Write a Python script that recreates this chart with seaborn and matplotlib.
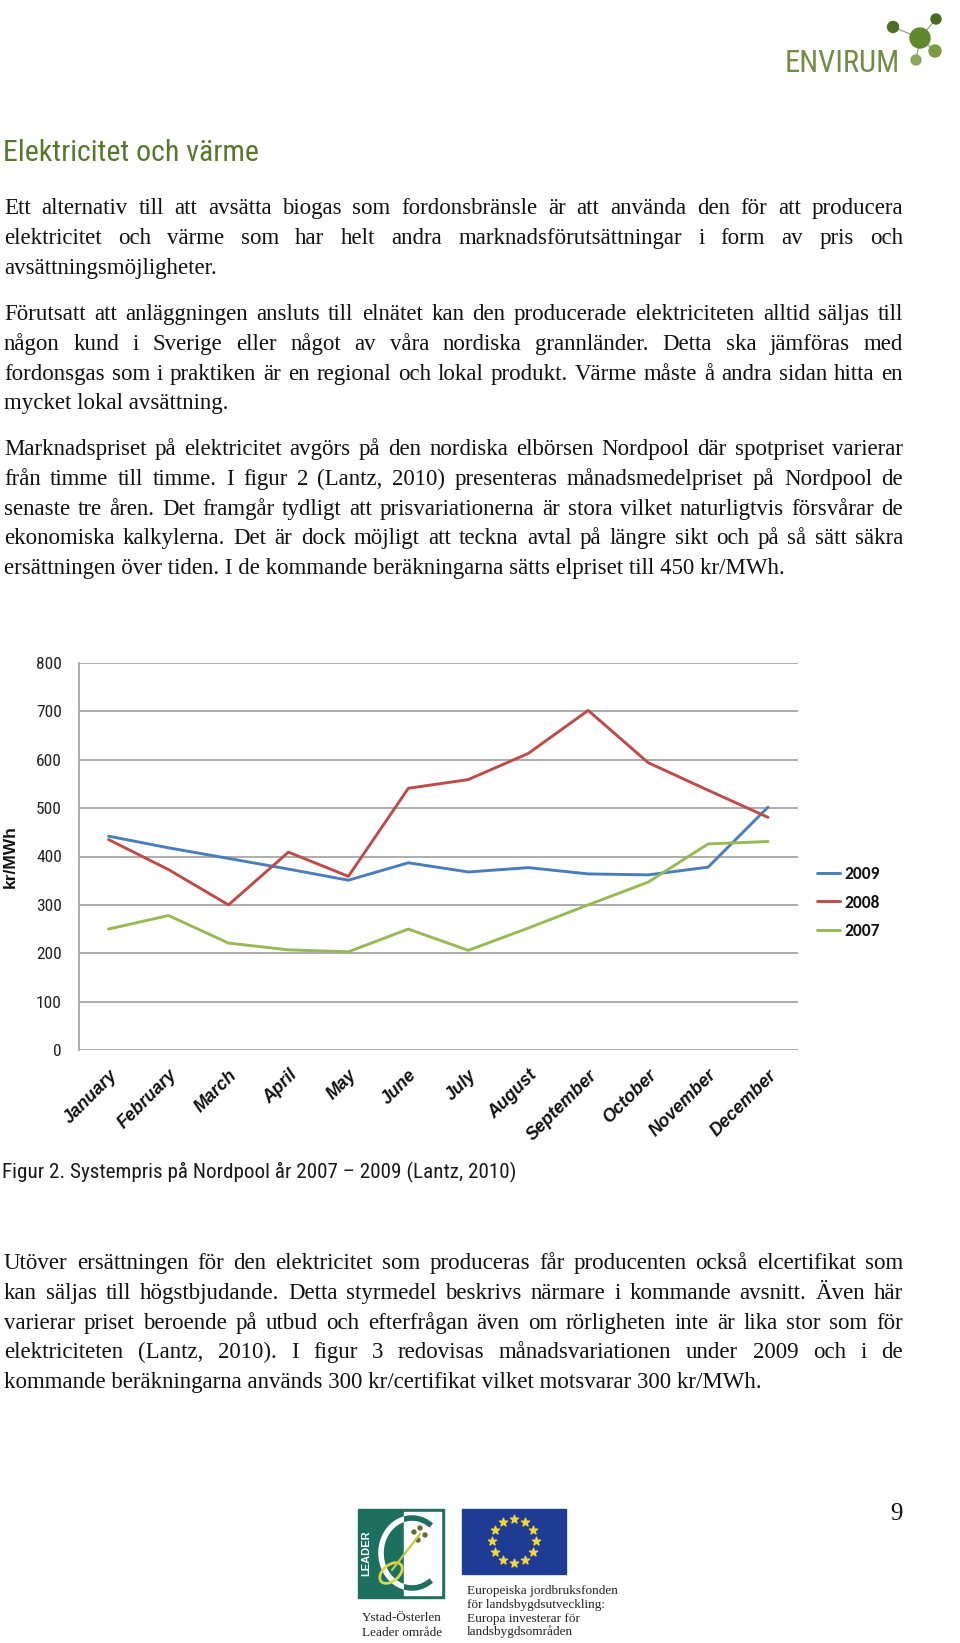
import matplotlib
matplotlib.use('Agg')
import matplotlib.pyplot as plt
from matplotlib import font_manager
from matplotlib.font_manager import FontProperties
from matplotlib.patches import Rectangle, Circle, Ellipse, Arc
import numpy as np
import pandas as pd
import seaborn as sns

# chart data
months = ['January', 'February', 'March', 'April', 'May', 'June', 'July',
          'August', 'September', 'October', 'November', 'December']
years = ['2009', '2008', '2007']
price_2009 = [442, 418, 396, 374, 351, 387, 368, 377, 364, 362, 378, 502]
price_2008 = [435, 373, 300, 409, 359, 541, 559, 613, 702, 594, 537, 481]
price_2007 = [250, 278, 221, 207, 203, 250, 206, 252, 300, 347, 426, 431]
y_ticks = [0, 100, 200, 300, 400, 500, 600, 700, 800]
line_colors = ['#4a7ebb', '#be4b48', '#98b954']

# page text
title = 'Elektricitet och värme'
para1 = ['Ett alternativ till att avsätta biogas som fordonsbränsle är att använda den för att producera',
         'elektricitet och värme som har helt andra marknadsförutsättningar i form av pris och',
         'avsättningsmöjligheter.']
para2 = ['Förutsatt att anläggningen ansluts till elnätet kan den producerade elektriciteten alltid säljas till',
         'någon kund i Sverige eller något av våra nordiska grannländer. Detta ska jämföras med',
         'fordonsgas som i praktiken är en regional och lokal produkt. Värme måste å andra sidan hitta en',
         'mycket lokal avsättning.']
para3 = ['Marknadspriset på elektricitet avgörs på den nordiska elbörsen Nordpool där spotpriset varierar',
         'från timme till timme. I figur 2 (Lantz, 2010) presenteras månadsmedelpriset på Nordpool de',
         'senaste tre åren. Det framgår tydligt att prisvariationerna är stora vilket naturligtvis försvårar de',
         'ekonomiska kalkylerna. Det är dock möjligt att teckna avtal på längre sikt och på så sätt säkra',
         'ersättningen över tiden. I de kommande beräkningarna sätts elpriset till 450 kr/MWh.']
caption = 'Figur 2. Systempris på Nordpool år 2007 – 2009 (Lantz, 2010)'
para4 = ['Utöver ersättningen för den elektricitet som produceras får producenten också elcertifikat som',
         'kan säljas till högstbjudande. Detta styrmedel beskrivs närmare i kommande avsnitt. Även här',
         'varierar priset beroende på utbud och efterfrågan även om rörligheten inte är lika stor som för',
         'elektriciteten (Lantz, 2010). I figur 3 redovisas månadsvariationen under 2009 och i de',
         'kommande beräkningarna används 300 kr/certifikat vilket motsvarar 300 kr/MWh.']
leader_text = ['Ystad-Österlen', 'Leader område']
eu_text = ['Europeiska jordbruksfonden', 'för landsbygdsutveckling:',
           'Europa investerar för', 'landsbygdsområden']

sns.set_theme(style='white')

installed = {f.name for f in font_manager.fontManager.ttflist}


def pick(*names):
    for n in names:
        if n in installed:
            return n
    return 'DejaVu Sans'


NARROW = pick('Liberation Sans Narrow', 'DejaVu Sans Condensed', 'Roboto Condensed', 'Liberation Sans')
narrow_k = 1.0 if NARROW != 'Liberation Sans' else 0.82
SERIF = pick('Liberation Serif', 'DejaVu Serif')
SANS = pick('Liberation Sans', 'DejaVu Sans')
CAL = pick('Carlito', 'Lato', 'Open Sans', 'DejaVu Sans')
plt.rcParams['font.family'] = [SANS, 'DejaVu Sans']

W, H = 960, 1643
fig = plt.figure(figsize=(W / 100, H / 100), dpi=100)
fig.patch.set_facecolor('white')

# page layer in pixel coordinates
pg = fig.add_axes([0, 0, 1, 1])
pg.set_xlim(0, W)
pg.set_ylim(H, 0)
pg.axis('off')

# header logo
pg.text(785, 72, 'ENVIRUM', family=NARROW, fontsize=22 * narrow_k, color='#738c45', va='baseline')
hub = (920, 38)
for (cx, cy, r, c) in [(893, 27, 5.5, '#4f6f22'), (936, 19, 5, '#4a6a1f'),
                       (935, 51, 6, '#7a9a45'), (916, 60, 5, '#8aa85a')]:
    pg.plot([hub[0], cx], [hub[1], cy], color='#8a9a78', lw=0.8, zorder=1)
    pg.add_patch(Circle((cx, cy), r, color=c, zorder=2))
pg.add_patch(Circle(hub, 10, color='#5f8a2c', zorder=2))

pg.text(3, 161, title, family=NARROW, fontsize=21.5 * narrow_k, color='#55782a', va='baseline')

# body text, justified word by word
fig.canvas.draw()
rend = fig.canvas.get_renderer()
left, right = 4, 903
body_size = 16.5


def tw(s, fp):
    return rend.get_text_width_height_descent(s, fp, ismath=False)[0]


all_lines = []
for p in (para1, para2, para3, para4):
    all_lines += p[:-1]
fp = FontProperties(family=SERIF, size=body_size)
widest = max(tw(l, fp) for l in all_lines)
if widest > 0.995 * (right - left):
    body_size *= 0.995 * (right - left) / widest
fp = FontProperties(family=SERIF, size=body_size)


def paragraph(lines, y0, step=29.8):
    for i, line in enumerate(lines):
        y = y0 + i * step
        if i == len(lines) - 1:
            pg.text(left, y, line, fontproperties=fp, color='#111111', va='baseline')
            continue
        words = line.split()
        ws = [tw(w, fp) for w in words]
        gap = (right - left - sum(ws)) / (len(words) - 1)
        x = left
        for w, wd in zip(words, ws):
            pg.text(x, y, w, fontproperties=fp, color='#111111', va='baseline')
            x += wd + gap


paragraph(para1, 214)
paragraph(para2, 320)
paragraph(para3, 455)
paragraph(para4, 1269)

pg.text(2, 1178, caption, family=NARROW, fontsize=15.2 * narrow_k, color='#1a1a1a', va='baseline')

# chart
df = pd.DataFrame({
    'month': months * 3,
    'year': [years[0]] * 12 + [years[1]] * 12 + [years[2]] * 12,
    'price': price_2009 + price_2008 + price_2007,
})
ax = fig.add_axes([78.6 / W, 1 - 1050 / H, 719.4 / W, 387 / H])
sns.lineplot(data=df, x='month', y='price', hue='year', hue_order=years,
             palette=line_colors, linewidth=2.1, sort=False, ax=ax)
ax.set_xlim(-0.5, 11.5)
ax.set_ylim(0, 800)
ax.set_yticks(y_ticks)
ax.set_yticklabels([str(v) for v in y_ticks], family=NARROW, fontsize=12.5 * narrow_k, color='#222222')
ax.set_xticks(range(12))
ax.set_xticklabels(months, rotation=45, ha='right', rotation_mode='anchor',
                   fontsize=12.8, fontweight='bold', fontstyle='italic', color='#111111')
ax.tick_params(axis='y', length=0, pad=12)
ax.tick_params(axis='x', length=0, pad=12)
ax.yaxis.grid(True, color='#a6a6a6', lw=1.3)
ax.xaxis.grid(False)
ax.set_axisbelow(True)
for s in ['top', 'right', 'bottom']:
    ax.spines[s].set_visible(False)
ax.spines['left'].set_color('#a6a6a6')
ax.spines['left'].set_linewidth(1.3)
ax.set_xlabel('')
ax.set_ylabel('kr/MWh', fontsize=12.5, fontweight='bold', color='#111111')
ax.yaxis.set_label_coords((18 - 78.6) / 719.4, 0.5)
ax.set_facecolor('none')

handles, labels = ax.get_legend_handles_labels()
ax.get_legend().remove()
leg = ax.legend(handles, labels, loc='upper left', bbox_to_anchor=(817 / W, 1 - 866 / H),
                bbox_transform=fig.transFigure, frameon=False, borderpad=0, borderaxespad=0,
                handlelength=1.3, handletextpad=0.25, labelspacing=0.72,
                prop=FontProperties(family=CAL, weight='bold', size=12.5))
for t in leg.get_texts():
    t.set_color('#111111')

# footer: LEADER logo
teal = '#1d6f5f'
pg.add_patch(Rectangle((358, 1509), 86, 89, color=teal))
white_part = Rectangle((404, 1512), 37, 83, color='white')
pg.add_patch(white_part)
teal_part = Rectangle((358, 1509), 46, 89, facecolor='none', edgecolor='none')
pg.add_patch(teal_part)
a1 = Arc((412, 1553), 62, 70, theta1=55, theta2=305, color='white', lw=4)
pg.add_patch(a1)
a1.set_clip_path(teal_part)
a2 = Arc((412, 1553), 62, 70, theta1=55, theta2=305, color=teal, lw=4)
pg.add_patch(a2)
a2.set_clip_path(white_part)
pg.text(366, 1553, 'LEADER', rotation=90, color='white', fontsize=8, fontweight='bold',
        ha='center', va='center', family=SANS)
pg.plot([392, 420], [1570, 1534], color='#c8c83c', lw=1.6)
pg.add_patch(Ellipse((391, 1573), 26, 16, angle=-40, facecolor='none', edgecolor='#d8d84a', lw=2))
for (bx, by) in [(414, 1532), (420, 1528), (425, 1535), (418, 1540)]:
    pg.add_patch(Circle((bx, by), 2, color='#6a6a30'))

# footer: EU flag
pg.add_patch(Rectangle((462, 1509), 104, 65, color='#1f3c94'))
ang = np.linspace(0, 2 * np.pi, 12, endpoint=False)
pg.scatter(514 + 22 * np.cos(ang), 1541 + 22 * np.sin(ang), marker='*', s=38, color='#f3d53c', zorder=3)

for i, s in enumerate(leader_text):
    pg.text(362, 1621 + i * 15, s, family=SERIF, fontsize=9.5, color='#222222', va='baseline')
for i, s in enumerate(eu_text):
    pg.text(467, 1594 + i * 13.8, s, family=SERIF, fontsize=9.5, color='#222222', va='baseline')

pg.text(896, 1520, '9', family=SERIF, fontsize=18, color='#111111', ha='center', va='baseline')

fig.savefig('out.png', dpi=100, facecolor='white')
